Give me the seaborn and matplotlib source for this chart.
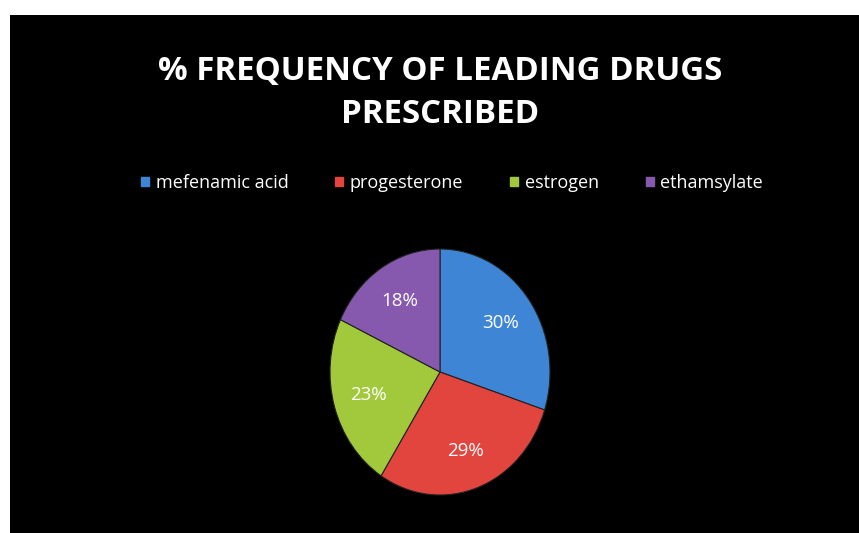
import matplotlib
matplotlib.use("Agg")
import matplotlib.pyplot as plt
import matplotlib.patches as mpatches
import seaborn as sns

drugs = ["mefenamic acid", "progesterone", "estrogen", "ethamsylate"]
share = [30, 29, 23, 18]
title = "% FREQUENCY OF LEADING DRUGS\nPRESCRIBED"

sns.set_style("dark")
plt.rcParams["font.family"] = ["Open Sans", "DejaVu Sans"]
colors = sns.color_palette(["#3F85D5", "#E2443E", "#A2C93C", "#8658AE"])

W, H = 859, 533
fig = plt.figure(figsize=(W / 100, H / 100), dpi=100, facecolor="white")

# black chart area with white margin on top and left
bg = fig.add_axes([10 / W, 0, 1 - 10 / W, 1 - 15 / H])
bg.set_facecolor("black")
bg.set_xticks([])
bg.set_yticks([])
for s in bg.spines.values():
    s.set_visible(False)

# pie, slightly taller than wide
cx, cy, rx, ry = 440, 372, 110, 123
ax = fig.add_axes([(cx - rx) / W, (H - cy - ry) / H, 2 * rx / W, 2 * ry / H])
wedges, _, autotexts = ax.pie(
    share, colors=colors, startangle=90, counterclock=False,
    autopct="%d%%", pctdistance=0.68,
    wedgeprops=dict(edgecolor="#222222", linewidth=0.8),
    textprops=dict(color="white", fontsize=13.5),
)
ax.set_aspect("auto")
ax.set_xlim(-1, 1)
ax.set_ylim(-1, 1)
ax.axis("off")

fig.text(cx / W, 1 - 93 / H, title, ha="center", va="center", color="white",
         fontsize=23.8, fontweight="bold", linespacing=1.4)

handles = [mpatches.Patch(color=c, label=d) for c, d in zip(colors, drugs)]
leg = fig.legend(handles=handles, loc="center", bbox_to_anchor=(452 / W, 1 - 183 / H),
                 ncol=4, frameon=False, fontsize=13, labelcolor="white",
                 handlelength=0.45, handleheight=0.45, handletextpad=0.35,
                 columnspacing=2.6)

fig.savefig("out.png", dpi=100, facecolor="white")
